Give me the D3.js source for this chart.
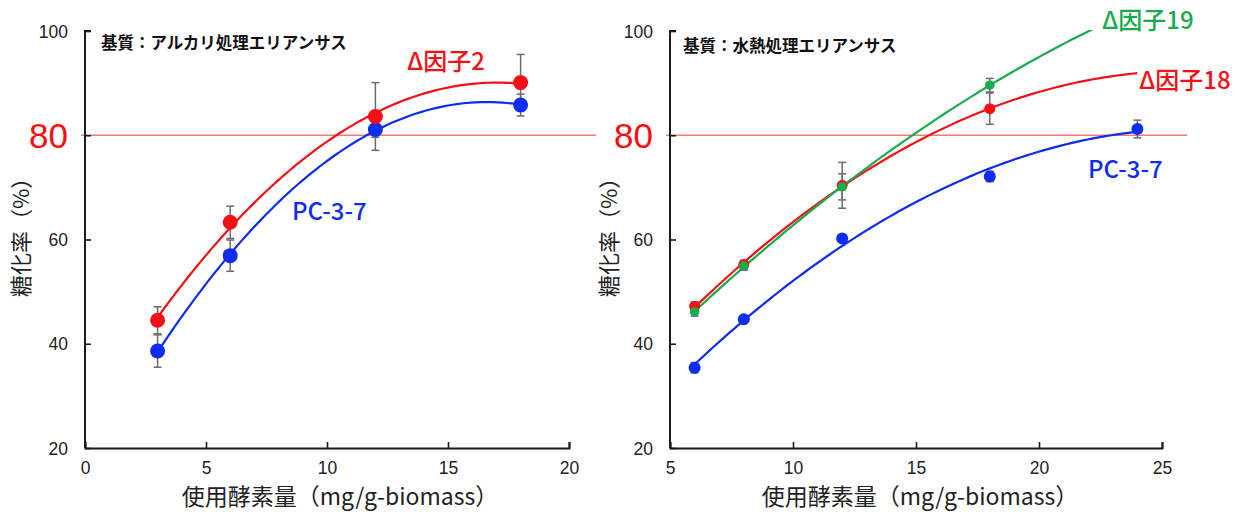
<!DOCTYPE html>
<html><head><meta charset="utf-8">
<script src="https://cdn.jsdelivr.net/npm/d3@7"></script>
<style>
html,body{margin:0;padding:0;background:#fff;}
svg{display:block;}
text{font-family:"Noto Sans CJK JP","Noto Sans",sans-serif;}
</style></head>
<body>
<svg id="chart" width="1247" height="513"></svg>
<script>
// ---- Data ----
// Left panel: alkali-treated Erianthus
const leftX = [3, 6, 12, 18];
const leftD2 = [44.5, 63.3, 83.6, 90.1];
const leftD2Err = [2.6, 3.1, 6.5, 5.4];
const leftPC = [38.6, 56.9, 81.1, 85.8];
const leftPCErr = [3.1, 3.0, 1.5, 2.1];
const leftXTicks = [0, 5, 10, 15, 20];

// Right panel: hydrothermally treated Erianthus
const rightPCX = [6, 8, 12, 18, 24];
const rightPC = [35.4, 44.7, 60.2, 72.1, 81.2];
const rightPCErr = [1.0, 0.5, 0.5, 1.0, 1.7];
const rightDX = [6, 8, 12, 18];
const rightD18 = [47.2, 55.2, 70.4, 85.1];
const rightD18Err = [0.8, 0.8, 4.4, 3.0];
const rightD19 = [46.1, 54.9, 70.1, 89.6];
const rightD19Err = [0.8, 0.8, 2.5, 1.3];
const rightXTicks = [5, 10, 15, 20, 25];

const yTicks = [20, 40, 60, 80, 100];
const yTickLabels = ["20", "40", "60", "", "100"];
const targetLine = 80;

const RED = "#f50f14", BLUE = "#0f2cf2", GREEN = "#19aa4e", AXIS = "#1a1a1a", ERR = "#6b6b6b";

// quadratic least-squares trend (like a spreadsheet polynomial trendline)
function quadFit(xs, ys) {
  let n = xs.length, s = [0,0,0,0,0], t = [0,0,0];
  for (let i = 0; i < n; i++) {
    let x = xs[i], y = ys[i];
    for (let k = 0; k < 5; k++) s[k] += Math.pow(x, k);
    for (let k = 0; k < 3; k++) t[k] += y * Math.pow(x, k);
  }
  let M = [[s[0],s[1],s[2],t[0]],[s[1],s[2],s[3],t[1]],[s[2],s[3],s[4],t[2]]];
  for (let i = 0; i < 3; i++) {
    let p = M[i][i];
    for (let j = i; j < 4; j++) M[i][j] /= p;
    for (let r = 0; r < 3; r++) if (r !== i) {
      let f = M[r][i];
      for (let j = i; j < 4; j++) M[r][j] -= f * M[i][j];
    }
  }
  const c = [M[0][3], M[1][3], M[2][3]];
  return x => c[0] + c[1]*x + c[2]*x*x;
}

const svg = d3.select("#chart");

function panel(cfg) {
  const x = d3.scaleLinear().domain(cfg.xDomain).range(cfg.xRange);
  const y = d3.scaleLinear().domain([20, 100]).range([448, 31]);
  const g = svg.append("g");
  const clipId = "clip" + cfg.id;
  g.append("clipPath").attr("id", clipId).append("rect")
    .attr("x", cfg.xRange[0]).attr("y", y(100) - 1)
    .attr("width", cfg.xRange[1] - cfg.xRange[0] + 10).attr("height", y(20) - y(100) + 2);

  // 80% target line
  g.append("line").attr("x1", cfg.targetX[0]).attr("x2", cfg.targetX[1])
    .attr("y1", y(targetLine)).attr("y2", y(targetLine))
    .attr("stroke", "#f27a7a").attr("stroke-width", 1.3);

  // axes
  const xAxis = d3.axisBottom(x).tickValues(cfg.xTicks).tickSize(-6).tickPadding(14).tickFormat(d3.format("d"));
  const yAxis = d3.axisLeft(y).tickValues(yTicks).tickSize(-6).tickPadding(17).tickFormat((d, i) => yTickLabels[i]);
  const xa = g.append("g").attr("transform", `translate(0,${y(20)})`).call(xAxis);
  const ya = g.append("g").attr("transform", `translate(${x(cfg.xDomain[0])},0)`).call(yAxis);
  [xa, ya].forEach(a => {
    a.select(".domain").attr("stroke", AXIS).attr("stroke-width", 2);
    a.selectAll(".tick line").attr("stroke", AXIS).attr("stroke-width", 1.6);
    a.selectAll(".tick text").attr("fill", "#222").style("font-size", "17.5px")
      .style("font-family", "'Liberation Sans', Arial, sans-serif");
  });
  ya.select(".domain").attr("d", `M6,${y(100)}H0V${y(20)}`);
  ya.selectAll(".tick text").attr("dy", "0.35em");

  // big red 80
  g.append("text").attr("x", x(cfg.xDomain[0]) - 17).attr("y", y(80)).attr("dy", "0.36em")
    .attr("text-anchor", "end").attr("fill", "#ff0a0a")
    .style("font-size", "35px").style("font-family", "'Liberation Sans', Arial, sans-serif").text("80");

  // titles
  g.append("text").attr("transform", `translate(${cfg.yTitleX},232) rotate(-90)`)
    .attr("text-anchor", "middle").attr("dy", "0.35em").attr("fill", "#222")
    .style("font-size", "22px").text("糖化率（%）");
  g.append("text").attr("x", cfg.xTitleX).attr("y", 497).attr("dy", "0.35em")
    .attr("text-anchor", "middle").attr("fill", "#222")
    .style("font-size", "23px").text("使用酵素量（mg/g-biomass）");
  g.append("text").attr("x", cfg.subX).attr("y", cfg.subY).attr("dy", "0.35em")
    .attr("fill", "#111").style("font-size", "16.5px").style("font-weight", "bold").text(cfg.subtitle);

  const plot = g.append("g").attr("clip-path", `url(#${clipId})`);
  // trend lines
  cfg.series.forEach(s => {
    const f = quadFit(s.xs, s.ys);
    const pts = d3.range(s.range[0], s.range[1] + 0.001, (s.range[1] - s.range[0]) / 80).map(v => [v, f(v)]);
    plot.append("path").datum(pts).attr("fill", "none").attr("stroke", s.color).attr("stroke-width", 2.2)
      .attr("d", d3.line().x(d => x(d[0])).y(d => y(d[1])));
  });
  // error bars
  cfg.series.forEach(s => {
    s.xs.forEach((xv, i) => {
      const e = s.err[i]; if (!e) return;
      const cx = x(xv), y1 = y(s.ys[i] + e), y2 = y(s.ys[i] - e);
      g.append("line").attr("x1", cx).attr("x2", cx).attr("y1", y1).attr("y2", y2).attr("stroke", ERR).attr("stroke-width", 1.5);
      [y1, y2].forEach(yy => g.append("line").attr("x1", cx - 4).attr("x2", cx + 4).attr("y1", yy).attr("y2", yy).attr("stroke", ERR).attr("stroke-width", 1.5));
    });
  });
  // markers
  cfg.series.forEach(s => {
    g.selectAll(null).data(s.xs.map((xv, i) => [xv, s.ys[i]])).enter().append("circle")
      .attr("cx", d => x(d[0])).attr("cy", d => y(d[1])).attr("r", s.r).attr("fill", s.color);
  });
  // series labels
  cfg.labels.forEach(l => {
    g.append("text").attr("x", l.x).attr("y", l.y).attr("dy", "0.35em").attr("fill", l.color)
      .style("font-size", "24px").style("font-weight", "500").text(l.text);
  });
}

panel({
  id: "L", xDomain: [0, 20], xRange: [85, 569], xTicks: leftXTicks, targetX: [81, 596],
  yTitleX: 21, xTitleX: 340, subX: 101, subY: 43, subtitle: "基質：アルカリ処理エリアンサス",
  series: [
    {xs: leftX, ys: leftPC, err: leftPCErr, color: BLUE, r: 7.5, range: [3, 18]},
    {xs: leftX, ys: leftD2, err: leftD2Err, color: RED, r: 7.5, range: [3, 18]}
  ],
  labels: [
    {text: "Δ因子2", x: 407, y: 62, color: RED},
    {text: "PC-3-7", x: 292, y: 212, color: BLUE}
  ]
});

panel({
  id: "R", xDomain: [5, 25], xRange: [670, 1162], xTicks: rightXTicks, targetX: [666, 1187],
  yTitleX: 609, xTitleX: 920, subX: 683, subY: 46, subtitle: "基質：水熱処理エリアンサス",
  series: [
    {xs: rightPCX, ys: rightPC, err: rightPCErr, color: BLUE, r: 6, range: [6, 24]},
    {xs: rightDX, ys: rightD18, err: rightD18Err, color: RED, r: 5.5, range: [6, 24]},
    {xs: rightDX, ys: rightD19, err: rightD19Err, color: GREEN, r: 4.8, range: [6, 24]}
  ],
  labels: [
    {text: "Δ因子19", x: 1102, y: 21, color: GREEN},
    {text: "Δ因子18", x: 1139, y: 81, color: RED},
    {text: "PC-3-7", x: 1088, y: 170, color: BLUE}
  ]
});
</script>
</body></html>
